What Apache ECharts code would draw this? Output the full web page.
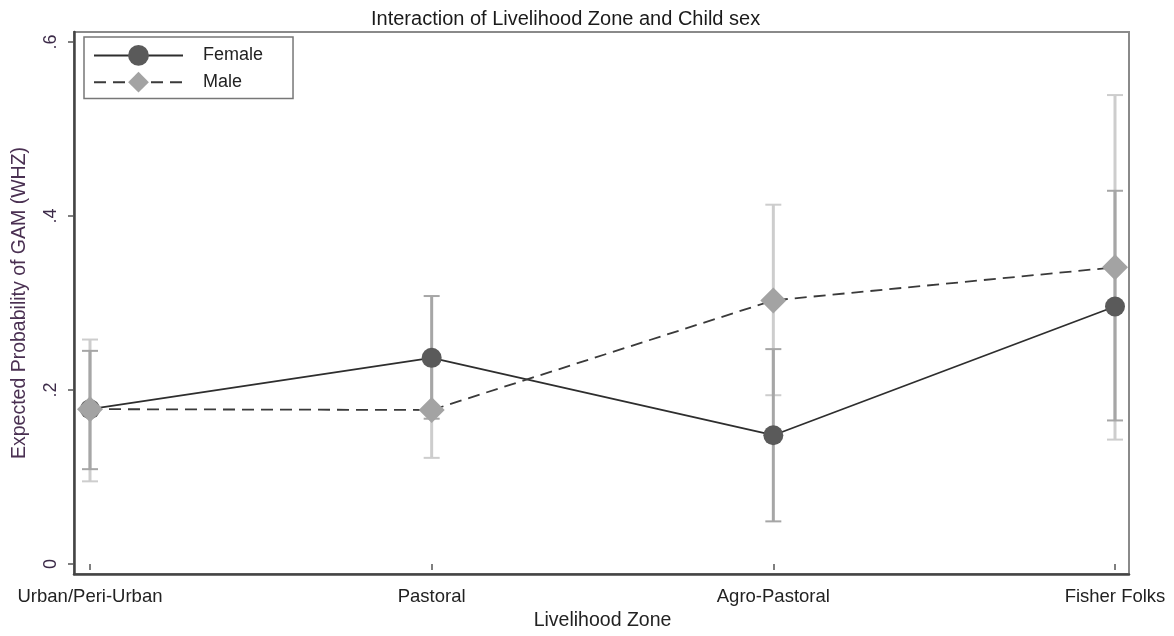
<!DOCTYPE html>
<html><head><meta charset="utf-8">
<script src="https://cdn.jsdelivr.net/npm/echarts@6/dist/echarts.min.js"></script>
<style>html,body{margin:0;padding:0;background:#fff}#c{width:1174px;height:636px}</style>
</head><body><div id="c"></div>
<script>
const categories = ['Urban/Peri-Urban', 'Pastoral', 'Agro-Pastoral', 'Fisher Folks'];
const femaleValues = [0.178, 0.237, 0.148, 0.296];
const femaleLow = [0.109, 0.167, 0.049, 0.165];
const femaleHigh = [0.245, 0.308, 0.247, 0.429];
const maleValues = [0.178, 0.177, 0.303, 0.341];
const maleLow = [0.095, 0.122, 0.194, 0.143];
const maleHigh = [0.258, 0.230, 0.413, 0.539];
const yTicks = [0, 0.2, 0.4, 0.6];
const yTickLabels = ['0', '.2', '.4', '.6'];

const FONT = '"Liberation Sans", Arial, sans-serif';

function ciData(lo, hi) {
  return categories.map((c, i) => [i, lo[i], hi[i]]);
}
function ciRender(color) {
  return function (params, api) {
    const x = api.value(0);
    const p1 = api.coord([x, api.value(1)]);
    const p2 = api.coord([x, api.value(2)]);
    const w = 8;
    return {
      type: 'group',
      children: [
        { type: 'line', shape: { x1: p1[0], y1: p1[1], x2: p2[0], y2: p2[1] }, style: { stroke: color, lineWidth: 3 } },
        { type: 'line', shape: { x1: p1[0] - w, y1: p1[1], x2: p1[0] + w, y2: p1[1] }, style: { stroke: color, lineWidth: 2 } },
        { type: 'line', shape: { x1: p2[0] - w, y1: p2[1], x2: p2[0] + w, y2: p2[1] }, style: { stroke: color, lineWidth: 2 } }
      ]
    };
  };
}

const chart = echarts.init(document.getElementById('c'), null, { renderer: 'canvas' });
chart.setOption({
  animation: false,
  backgroundColor: '#fff',
  textStyle: { fontFamily: FONT },
  title: {
    text: 'Interaction of Livelihood Zone and Child sex',
    left: 366, top: 4,
    textStyle: { fontFamily: FONT, fontSize: 20, fontWeight: 'normal', color: '#1a1a1a' }
  },
  legend: {
    data: ['Female', 'Male'],
    orient: 'vertical',
    left: 84, top: 37,
    borderColor: '#777', borderWidth: 1.5,
    padding: [8, 30, 6, 9],
    itemWidth: 89, itemHeight: 26, itemGap: 6,
    textStyle: { fontFamily: FONT, fontSize: 18, color: '#222', padding: [0, 0, 0, 15] }
  },
  grid: [
    { left: 74, right: 45, top: 32, bottom: 62, show: true, borderColor: '#8a8a8a', borderWidth: 2 },
    { left: 90, right: 59, top: 42, bottom: 70 }
  ],
  xAxis: [
    { gridIndex: 0, type: 'value', min: 0, max: 1, axisLine: { show: true, lineStyle: { color: '#444', width: 2.5 } },
      axisTick: { show: false }, axisLabel: { show: false }, splitLine: { show: false } },
    { gridIndex: 1, type: 'category', data: categories, boundaryGap: false, offset: 8,
      axisLine: { show: false },
      axisTick: { show: true, length: 6, lineStyle: { color: '#555', width: 1.5 } },
      axisLabel: { margin: 15, fontFamily: FONT, fontSize: 18.5, color: '#222' },
      name: 'Livelihood Zone', nameLocation: 'middle', nameGap: 39,
      nameTextStyle: { fontFamily: FONT, fontSize: 19.5, color: '#222' } }
  ],
  yAxis: [
    { gridIndex: 0, type: 'value', min: 0, max: 1, axisLine: { show: true, lineStyle: { color: '#444', width: 2.5 } },
      axisTick: { show: false }, axisLabel: { show: false }, splitLine: { show: false } },
    { gridIndex: 1, type: 'value', min: 0, max: 0.6, interval: 0.2, offset: 16,
      axisLine: { show: false },
      axisTick: { show: true, length: 6, lineStyle: { color: '#555', width: 1.5 } },
      splitLine: { show: false },
      axisLabel: { rotate: 90, margin: 14, fontFamily: FONT, fontSize: 18, color: '#3c2a48',
        formatter: v => { const i = yTicks.findIndex(t => Math.abs(t - v) < 1e-9); return i >= 0 ? yTickLabels[i] : ''; } },
      name: 'Expected Probability of GAM (WHZ)', nameLocation: 'middle', nameGap: 44,
      nameTextStyle: { fontFamily: FONT, fontSize: 19.5, color: '#4a3052' } }
  ],
  series: [
    { name: 'Male CI', type: 'custom', xAxisIndex: 1, yAxisIndex: 1, renderItem: ciRender('#cdcdcd'),
      data: ciData(maleLow, maleHigh), encode: { x: 0, y: [1, 2] }, z: 1, silent: true },
    { name: 'Female CI', type: 'custom', xAxisIndex: 1, yAxisIndex: 1, renderItem: ciRender('#a6a6a6'),
      data: ciData(femaleLow, femaleHigh), encode: { x: 0, y: [1, 2] }, z: 2, silent: true },
    { name: 'Female', type: 'line', xAxisIndex: 1, yAxisIndex: 1, data: femaleValues,
      symbol: 'circle', symbolSize: 20, showAllSymbol: true, z: 3,
      itemStyle: { color: '#5a5a5a' },
      lineStyle: { color: '#2e2e2e', width: 1.8, type: 'solid' } },
    { name: 'Male', type: 'line', xAxisIndex: 1, yAxisIndex: 1, data: maleValues,
      symbol: 'diamond', symbolSize: 26, showAllSymbol: true, z: 4,
      itemStyle: { color: '#a3a3a3' },
      lineStyle: { color: '#3a3a3a', width: 1.8, type: [12, 7] } }
  ]
});
</script>
</body></html>
